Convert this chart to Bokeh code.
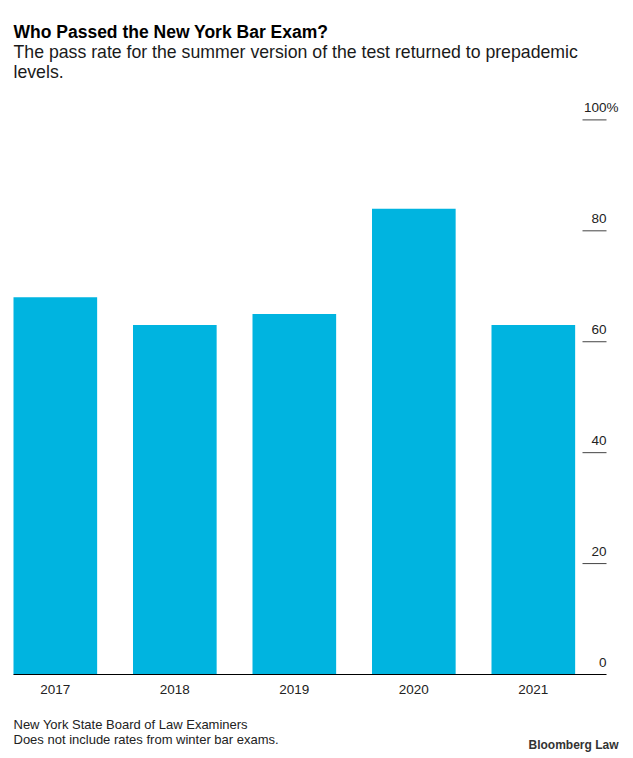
import math
from bokeh.plotting import figure
from bokeh.models import Range1d
from bokeh.embed import file_html
from bokeh.resources import INLINE
from bokeh.core.properties import value

years = ["2017", "2018", "2019", "2020", "2021"]
pass_rate = [68, 63, 65, 84, 63]
y_ticks = [0, 20, 40, 60, 80, 100]
y_tick_labels = ["0", "20", "40", "60", "80", "100"]

title_text = "Who Passed the New York Bar Exam?"
subtitle_lines = ["The pass rate for the summer version of the test returned to prepademic", "levels."]
footer_lines = ["New York State Board of Law Examiners", "Does not include rates from winter bar exams."]
brand = "Bloomberg Law"

FONT = "Liberation Sans"
BAR = "#00B4E0"
W, H = 625, 758

# layout constants (pixels)
PX_PER_CAT = 119.5
PX_PER_PCT = 5.546
LEFT_PAD = 13
BASE_Y = 674
X0 = -0.35 - LEFT_PAD / PX_PER_CAT
X1 = X0 + W / PX_PER_CAT
Y0 = -(H - BASE_Y) / PX_PER_PCT
Y1 = BASE_Y / PX_PER_PCT
TICK_X = X0 + 606 / PX_PER_CAT

p = figure(width=W, height=H, output_backend="svg", toolbar_location=None,
           x_range=Range1d(X0, X1), y_range=Range1d(Y0, Y1),
           x_axis_location=None, y_axis_location=None,
           min_border=0, min_border_left=0, min_border_right=0,
           min_border_top=0, min_border_bottom=0, outline_line_color=None)
p.extra_x_ranges = {"px": Range1d(0, W)}
p.extra_y_ranges = {"px": Range1d(H, 0)}
p.grid.visible = False

xs = list(range(len(years)))
p.vbar(x=xs, top=pass_rate, bottom=0, width=0.7, fill_color=BAR, line_color=None)

# baseline and right-hand value ticks
p.segment(x0=[X0 + LEFT_PAD / PX_PER_CAT], y0=[0], x1=[TICK_X], y1=[0],
          line_color="#000000", line_width=1.2)
p.ray(x=[TICK_X] * (len(y_ticks) - 1), y=y_ticks[1:], length=24, length_units="screen",
      angle=math.pi, line_color="#444444", line_width=1)
p.text(x=[TICK_X] * len(y_ticks), y=y_ticks, text=y_tick_labels, text_align="right",
       text_baseline="alphabetic", y_offset=-12, text_font=value(FONT), text_font_size="13.5px",
       text_color="#222222")
p.text(x=[TICK_X], y=[y_ticks[-1]], text=["%"], text_align="left",
       text_baseline="alphabetic", y_offset=-12, text_font=value(FONT), text_font_size="13.5px",
       text_color="#222222")

# category labels
p.text(x=xs, y=[0] * len(xs), text=years, text_align="center", text_baseline="alphabetic",
       y_offset=15, text_font=value(FONT), text_font_size="13.5px", text_color="#222222")

# header
p.text(x=[13], y=[31], text=[title_text], text_font=value(FONT), text_font_size="17.5px",
       text_font_style="bold", text_color="#000000", text_baseline="alphabetic",
       x_range_name="px", y_range_name="px")
p.text(x=[13, 13], y=[51.5, 71], text=subtitle_lines, text_font=value(FONT),
       text_font_size="17.7px", text_color="#1a1a1a", text_baseline="alphabetic",
       x_range_name="px", y_range_name="px")

# footer
p.text(x=[13, 13], y=[723.5, 739], text=footer_lines, text_font=value(FONT),
       text_font_size="13px", text_color="#222222", text_baseline="alphabetic",
       x_range_name="px", y_range_name="px")
p.text(x=[618], y=[744], text=[brand], text_font=value(FONT), text_font_size="12px",
       text_font_style="bold", text_color="#333333", text_align="right",
       text_baseline="alphabetic", x_range_name="px", y_range_name="px")

open("out.html", "w").write(file_html(p, INLINE))
